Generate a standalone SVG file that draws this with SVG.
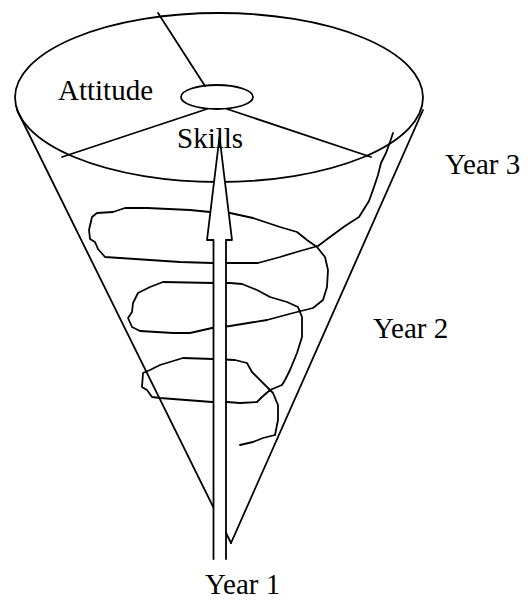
<svg xmlns="http://www.w3.org/2000/svg" width="531" height="600" viewBox="0 0 531 600">
  <style>
    .ln { fill: none; stroke: #000; stroke-width: 1.8; stroke-linejoin: round; stroke-linecap: round; }
    .lbl { font-family: "Liberation Serif", "Times New Roman", serif; font-size: 29px; fill: #000; }
  </style>
  <rect width="531" height="600" fill="#fff"/>

  <!-- cone: open top ellipse with the two sides meeting at the apex -->
  <g id="cone">
    <ellipse class="ln" cx="219" cy="97.5" rx="204" ry="84.5"/>
    <line class="ln" x1="17" y1="110" x2="231" y2="543"/>
    <line class="ln" x1="423" y1="110" x2="231" y2="543"/>
  </g>

  <!-- divisions of the top surface around the hub -->
  <g id="hub">
    <ellipse class="ln" cx="217" cy="97" rx="36" ry="12"/>
    <line class="ln" x1="158" y1="13" x2="205" y2="86"/>
    <line class="ln" x1="207" y1="109" x2="62" y2="157"/>
    <line class="ln" x1="227" y1="109" x2="371" y2="157"/>
  </g>

  <!-- spiral winding down inside the cone -->
  <g id="spiral">
    <polyline class="ln" points="393,133 390,142 386,153 381,163 378,175 374,187 369,201 359,217 345,226 330,237 318,246 300,251 280,257 258,263 227,263 212,263 180,262 105,257 98,249 95,242 90,239 89,230 92,217 97,213 113,212 125,208 147,208 190,210 210,212 230,213 253,218 280,227 297,232 307,240 317,247 325,257 328,270 327,287 323,300 313,308 293,313 267,320 230,326 212,328 190,333 173,333 140,331 132,327 128,318 132,312 133,303 138,293 150,287 163,282 213,283 230,283 242,284 257,290 270,297 287,302 298,307 302,317 302,337 297,353 290,370 285,380 282,385 270,390 262,397 257,402 240,403 227,402 212,402 160,398 152,397 147,390 142,387 143,373 150,370 160,365 183,358 213,359 235,360 247,363 252,372 263,383 273,393 278,405 278,420 275,435 263,438 253,442 240,445"/>
  </g>

  <!-- upward arrow through the centre -->
  <g id="arrow">
    <polygon points="213.5,559 213.5,240 207,240 219.5,137 232,240 226,240 226,559" fill="#fff" stroke="none"/>
    <polyline class="ln" points="213.5,559 213.5,240 207,240 219.5,137 232,240 226,240 226,559" stroke-linecap="butt"/>
  </g>

  <g id="labels">
    <text class="lbl" x="58" y="100">Attitude</text>
    <text class="lbl" x="177" y="148">Skills</text>
    <text class="lbl" x="445" y="174">Year 3</text>
    <text class="lbl" x="373" y="338">Year 2</text>
    <text class="lbl" x="205" y="594">Year 1</text>
  </g>
</svg>
